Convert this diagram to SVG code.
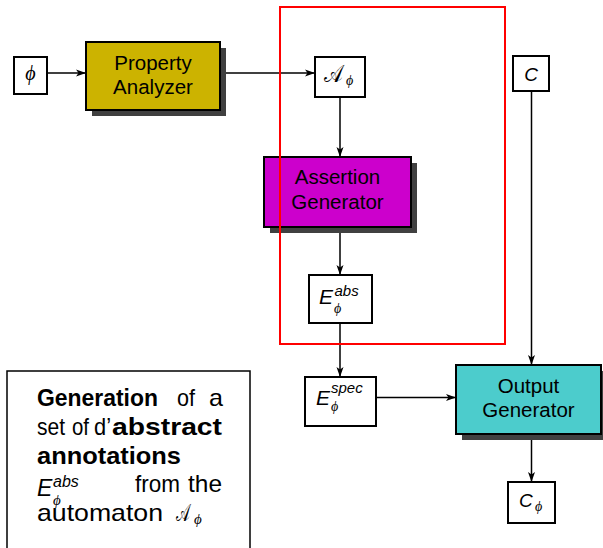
<svg xmlns="http://www.w3.org/2000/svg" width="603" height="548" viewBox="0 0 603 548">
<defs>
<marker id="ah" markerUnits="userSpaceOnUse" markerWidth="11" markerHeight="8" refX="10" refY="4" orient="auto">
<path d="M0,0.5 L10,4 L0,7.5 L2.5,4 z" fill="#000"/>
</marker>
</defs>
<style>
.sh{fill:#404040}
.bx{stroke:#000;stroke-width:2}
.sm{fill:#fff;stroke:#000;stroke-width:2}
.lb{font-family:"Liberation Sans",Arial,sans-serif;font-size:20.5px;fill:#000;text-anchor:middle}
.c{fill:none;stroke:#000;stroke-width:1.5}
.m{font-family:"Liberation Serif","DejaVu Serif",serif;font-style:italic;fill:#000}
.sc{font-family:"DejaVu Sans","DejaVu Serif",serif;font-style:normal;fill:#000}
.it{font-family:"Liberation Sans",Arial,sans-serif;font-style:italic;fill:#000}
.tx{font-family:"Liberation Sans",Arial,sans-serif;font-size:24px;fill:#000}
.b{font-weight:bold}
</style>
<rect x="0" y="0" width="603" height="548" fill="#fff"/>
<g id="connectors">
<line x1="47" y1="73" x2="86" y2="73" class="c" marker-end="url(#ah)"/>
<line x1="220" y1="73" x2="315" y2="73" class="c" marker-end="url(#ah)"/>
<line x1="340" y1="97" x2="340" y2="157" class="c" marker-end="url(#ah)"/>
<line x1="340" y1="227" x2="340" y2="275" class="c" marker-end="url(#ah)"/>
<line x1="340" y1="323" x2="340" y2="377" class="c" marker-end="url(#ah)"/>
<line x1="376" y1="397.5" x2="456" y2="397.5" class="c" marker-end="url(#ah)"/>
<line x1="531.5" y1="91" x2="531.5" y2="365" class="c" marker-end="url(#ah)"/>
<line x1="531.5" y1="434" x2="531.5" y2="482" class="c" marker-end="url(#ah)"/>
</g>
<g id="phi">
<rect x="14" y="57" width="33" height="37" class="sm"/>
<text x="30.5" y="80" class="m" font-size="20" text-anchor="middle">ϕ</text>
</g>
<g id="property-analyzer">
<rect x="92" y="48" width="134" height="68" class="sh"/>
<rect x="86" y="42" width="134" height="68" fill="#ccb300" class="bx"/>
<text x="153" y="69.5" class="lb">Property</text>
<text x="153" y="93.5" class="lb">Analyzer</text>
</g>
<g id="a-phi">
<rect x="315" y="57" width="50" height="40" class="sm"/>
<text y="82" class="m" font-size="14"><tspan x="324" class="sc" font-size="24" textLength="19" lengthAdjust="spacingAndGlyphs">𝒜</tspan><tspan x="346" y="85">ϕ</tspan></text>
</g>
<g id="assertion-generator">
<rect x="270" y="163" width="147" height="70" class="sh"/>
<rect x="264" y="157" width="147" height="70" fill="#cc00cc" class="bx"/>
<text x="337.5" y="184" class="lb">Assertion</text>
<text x="337.5" y="209" class="lb">Generator</text>
</g>
<g id="e-abs">
<rect x="309" y="275" width="63" height="48" class="sm"/>
<text y="303.5" class="it" font-size="21"><tspan x="319">E</tspan><tspan x="334.5" y="295.5" font-size="15">abs</tspan><tspan x="334" y="313" class="m" font-size="14">ϕ</tspan></text>
</g>
<g id="e-spec">
<rect x="305" y="377" width="71" height="49" class="sm"/>
<text y="405" class="it" font-size="21"><tspan x="316">E</tspan><tspan x="331" y="393" font-size="15">spec</tspan><tspan x="331" y="411" class="m" font-size="14">ϕ</tspan></text>
</g>
<g id="c">
<rect x="513" y="56" width="36" height="35" class="sm"/>
<text x="531" y="80.5" class="it" font-size="19" text-anchor="middle">C</text>
</g>
<g id="output-generator">
<rect x="462" y="371" width="146" height="69" class="sh"/>
<rect x="456" y="365" width="145" height="69" fill="#4ccccc" class="bx"/>
<text x="528.5" y="392.7" class="lb">Output</text>
<text x="528.5" y="416.7" class="lb">Generator</text>
</g>
<g id="c-phi">
<rect x="508" y="482" width="47" height="41" class="sm"/>
<text y="507" class="it" font-size="19"><tspan x="519">C</tspan><tspan x="535" y="511" class="m" font-size="14">ϕ</tspan></text>
</g>
<g id="focus-frame">
<rect x="280" y="7" width="225" height="337" fill="none" stroke="#ff0000" stroke-width="2"/>
</g>
<g id="note">
<rect x="7" y="371" width="243" height="190" fill="#fff" stroke="#000" stroke-width="1.5"/>
<text x="37" y="405.5" class="tx b" textLength="121" lengthAdjust="spacingAndGlyphs">Generation</text>
<text x="177" y="405.5" class="tx" textLength="18" lengthAdjust="spacingAndGlyphs">of</text>
<text x="209" y="405.5" class="tx" textLength="14" lengthAdjust="spacingAndGlyphs">a</text>
<text x="37" y="434.5" class="tx" textLength="28" lengthAdjust="spacingAndGlyphs">set</text>
<text x="72" y="434.5" class="tx" textLength="17" lengthAdjust="spacingAndGlyphs">of</text>
<text x="94" y="434.5" class="tx" textLength="17" lengthAdjust="spacingAndGlyphs">d’</text>
<text x="112" y="434.5" class="tx b" textLength="110" lengthAdjust="spacingAndGlyphs">abstract</text>
<text x="37" y="463.5" class="tx b" textLength="144" lengthAdjust="spacingAndGlyphs">annotations</text>
<text y="496" class="it" font-size="23"><tspan x="37">E</tspan><tspan x="53" y="486.5" font-size="16">abs</tspan><tspan x="53" y="505" class="m" font-size="15">ϕ</tspan></text>
<text x="135" y="492" class="tx" textLength="45" lengthAdjust="spacingAndGlyphs">from</text>
<text x="188" y="492" class="tx" textLength="34" lengthAdjust="spacingAndGlyphs">the</text>
<text y="520.5" class="tx"><tspan x="37" textLength="126" lengthAdjust="spacingAndGlyphs">automaton</tspan><tspan x="176" class="sc" font-size="24" textLength="14" lengthAdjust="spacingAndGlyphs">𝒜</tspan><tspan x="194" y="524" class="m" font-size="15">ϕ</tspan></text>
</g>
</svg>
